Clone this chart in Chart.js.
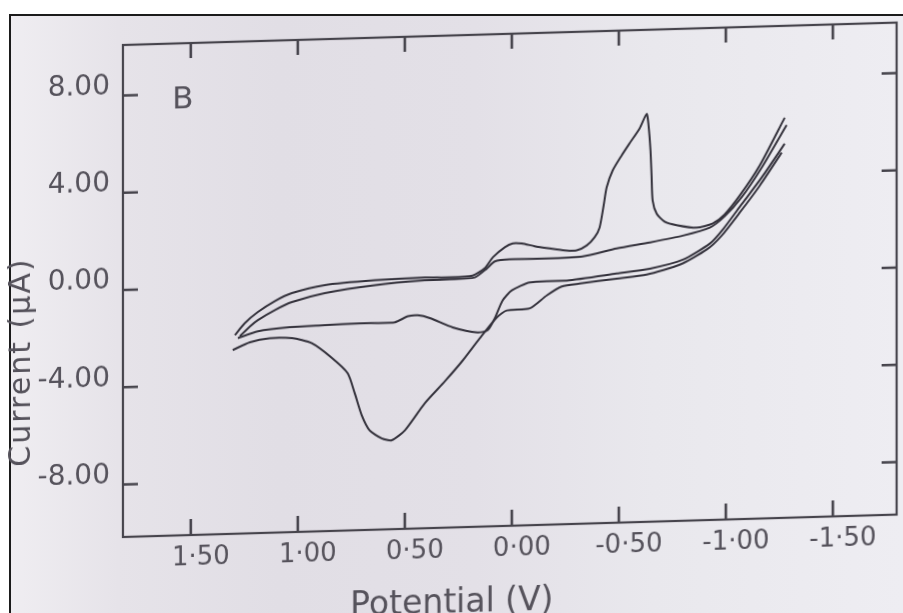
<!DOCTYPE html>
<html>
<head>
<meta charset="utf-8">
<script src="https://cdn.jsdelivr.net/npm/chart.js@4.4.1/dist/chart.umd.min.js"></script>
<style>
  html, body { margin: 0; padding: 0; width: 903px; height: 613px; overflow: hidden; background: #ffffff; }
  #photo {
    position: absolute; left: 9px; top: 14px; width: 894px; height: 599px;
    box-sizing: border-box; border-top: 2px solid #1b1b1b; border-left: 2px solid #1b1b1b;
    background: linear-gradient(90deg, #efedf1 0%, #e6e3e9 12%, #e1dee5 30%, #e3e0e7 52%, #e9e8ed 72%, #eeedf2 100%);
  }
  #wrap {
    position: absolute; left: 0; top: 0; width: 903px; height: 640px;
    transform-origin: 123px 0; transform: skewY(-1.66deg);
  }
</style>
</head>
<body>
<div id="photo"></div>
<div id="wrap"><canvas id="c" width="903" height="640"></canvas></div>
<script>
// ---- tick values and labels ----
const xTickValues = [1.5, 1.0, 0.5, 0.0, -0.5, -1.0, -1.5];
const xTickLabels = ['1·50', '1·00', '0·50', '0·00', '-0·50', '-1·00', '-1·50'];
const yTickValues = [8, 4, 0, -4, -8];
const yTickLabels = ['8.00', '4.00', '0.00', '-4.00', '-8.00'];

const xTitle = 'Potential (V)';
const yTitle = 'Current (µA)';
const panelLabel = 'B';

// ---- scan 1, cathodic sweep (left to right, sharp peak) ----
const scan1CathodicE = [1.294, 1.248, 1.187, 1.108, 1.028, 0.874, 0.640, 0.407, 0.290, 0.183, 0.127, 0.089, 0.033, -0.004, -0.046, -0.107, -0.177, -0.247, -0.303, -0.350, -0.387, -0.410, -0.429, -0.443, -0.471, -0.513, -0.551, -0.597, -0.630, -0.639, -0.648, -0.653, -0.658, -0.677, -0.714, -0.770, -0.864, -0.938, -0.994, -1.065, -1.158, -1.275];
const scan1CathodicI = [-1.99, -1.51, -1.07, -0.64, -0.33, -0.04, 0.10, 0.16, 0.13, 0.18, 0.46, 0.90, 1.30, 1.45, 1.44, 1.31, 1.20, 1.10, 1.09, 1.28, 1.61, 2.00, 2.90, 3.64, 4.33, 4.94, 5.44, 6.03, 6.62, 6.14, 5.11, 4.08, 3.05, 2.50, 2.17, 2.01, 1.88, 2.03, 2.39, 3.15, 4.36, 6.30];

// ---- scan 1, anodic sweep (right to left, large anodic peak) ----
const scan1AnodicE = [-1.261, -1.158, -1.065, -0.981, -0.911, -0.785, -0.630, -0.490, -0.317, -0.233, -0.163, -0.084, 0.024, 0.070, 0.150, 0.229, 0.313, 0.407, 0.500, 0.561, 0.608, 0.664, 0.701, 0.734, 0.767, 0.842, 0.935, 1.028, 1.131, 1.224, 1.304];
const scan1AnodicI = [4.87, 3.53, 2.45, 1.53, 0.97, 0.38, 0.01, -0.12, -0.28, -0.38, -0.73, -1.24, -1.30, -1.57, -2.41, -3.30, -4.14, -5.02, -6.11, -6.50, -6.41, -6.07, -5.44, -4.52, -3.69, -3.03, -2.41, -2.18, -2.16, -2.30, -2.60];

// ---- scan 2, cathodic sweep (smooth) ----
const scan2CathodicE = [1.271, 1.224, 1.187, 1.108, 1.028, 0.874, 0.640, 0.407, 0.290, 0.173, 0.117, 0.080, 0.010, -0.177, -0.331, -0.490, -0.645, -0.799, -0.925, -0.994, -1.073, -1.167, -1.284];
const scan2CathodicI = [-2.04, -1.65, -1.40, -1.01, -0.70, -0.37, -0.10, 0.04, 0.05, 0.10, 0.45, 0.73, 0.80, 0.79, 0.83, 1.12, 1.33, 1.57, 1.87, 2.31, 3.07, 4.27, 6.00];

// ---- scan 2, anodic sweep (small features) ----
const scan2AnodicE = [-1.275, -1.167, -1.073, -0.989, -0.925, -0.799, -0.645, -0.490, -0.257, -0.084, 0.000, 0.043, 0.080, 0.113, 0.160, 0.276, 0.383, 0.440, 0.486, 0.547, 0.711, 0.874, 1.038, 1.187, 1.280];
const scan2AnodicI = [5.23, 3.86, 2.78, 1.81, 1.21, 0.58, 0.25, 0.09, -0.14, -0.17, -0.48, -0.88, -1.61, -2.09, -2.17, -1.93, -1.52, -1.39, -1.42, -1.65, -1.65, -1.69, -1.73, -1.86, -2.12];

const lineColor = '#33313b';
const axisColor = '#46444c';
const textColor = '#55525b';
const K = Math.tan(1.66 * Math.PI / 180); // page skew compensation for free text

function pts(E, I) { return E.map((e, i) => ({ x: e, y: I[i] })); }
function ds(E, I) {
  return { data: pts(E, I), showLine: true, borderColor: lineColor, borderWidth: 2,
           pointRadius: 0, tension: 0.22, fill: false };
}

const framePlugin = {
  id: 'frameTicks',
  afterDatasetsDraw(chart) {
    const { ctx, chartArea: a, scales: { x, y } } = chart;
    ctx.save();
    ctx.strokeStyle = axisColor;
    ctx.lineWidth = 2.2;
    ctx.strokeRect(a.left, a.top, a.right - a.left, a.bottom - a.top);
    ctx.lineWidth = 2.6;
    ctx.beginPath();
    xTickValues.forEach(v => {
      const px = x.getPixelForValue(v);
      ctx.moveTo(px, a.bottom); ctx.lineTo(px, a.bottom - 16);
      ctx.moveTo(px, a.top); ctx.lineTo(px, a.top + 15);
    });
    yTickValues.forEach(v => {
      const py = y.getPixelForValue(v);
      ctx.moveTo(a.left, py); ctx.lineTo(a.left + 15, py);
      ctx.moveTo(a.right, py); ctx.lineTo(a.right - 15, py);
    });
    ctx.stroke();

    ctx.fillStyle = textColor;
    // panel label
    ctx.font = '31px "DejaVu Sans"';
    ctx.textAlign = 'center';
    ctx.textBaseline = 'middle';
    ctx.fillText(panelLabel, x.getPixelForValue(1.537), y.getPixelForValue(7.75));

    // x title (screen centre 452, baseline 612)
    ctx.font = '33px "DejaVu Sans"';
    ctx.textBaseline = 'alphabetic';
    ctx.fillText(xTitle, 452, 612 + K * (452 - 123));

    // y title (screen centre 22, 362)
    ctx.save();
    ctx.translate(22, 362 + K * (22 - 123));
    ctx.rotate(-Math.PI / 2);
    ctx.font = '30px "DejaVu Sans"';
    try { ctx.letterSpacing = '2px'; } catch (e) {}
    ctx.textBaseline = 'middle';
    ctx.fillText(yTitle, 0, 0);
    ctx.restore();
    ctx.restore();
  }
};

new Chart(document.getElementById('c'), {
  type: 'scatter',
  data: {
    datasets: [
      ds(scan1CathodicE, scan1CathodicI),
      ds(scan1AnodicE, scan1AnodicI),
      ds(scan2CathodicE, scan2CathodicI),
      ds(scan2AnodicE, scan2AnodicI)
    ]
  },
  options: {
    responsive: false,
    devicePixelRatio: 1,
    animation: false,
    layout: { padding: { top: 45, right: 6, left: 0, bottom: 0 } },
    plugins: { legend: { display: false }, tooltip: { enabled: false } },
    scales: {
      x: {
        type: 'linear', reverse: true, min: -1.798, max: 1.817,
        afterBuildTicks: s => { s.ticks = xTickValues.map(v => ({ value: v })); },
        afterFit: s => { s.height = 103; },
        grid: { display: false, drawTicks: false },
        border: { display: false },
        ticks: {
          autoSkip: false, maxRotation: 0, padding: 8, labelOffset: 10,
          color: textColor, font: { family: 'DejaVu Sans', size: 26 },
          callback: v => xTickLabels[xTickValues.indexOf(v)]
        }
      },
      y: {
        type: 'linear', min: -10.16, max: 10.08,
        afterBuildTicks: s => { s.ticks = yTickValues.map(v => ({ value: v })); },
        afterFit: s => { s.width = 123; },
        grid: { display: false, drawTicks: false },
        border: { display: false },
        ticks: {
          autoSkip: false, padding: 13, labelOffset: -9,
          color: textColor, font: { family: 'DejaVu Sans', size: 28 },
          callback: v => yTickLabels[yTickValues.indexOf(v)]
        }
      }
    }
  },
  plugins: [framePlugin]
});
</script>
</body>
</html>
